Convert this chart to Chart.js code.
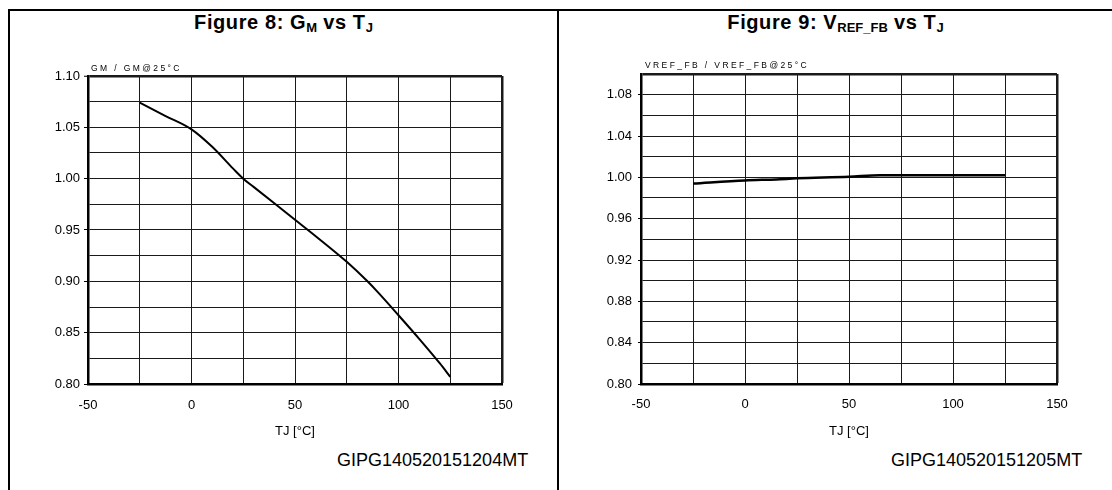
<!DOCTYPE html>
<html>
<head>
<meta charset="utf-8">
<script src="https://cdn.jsdelivr.net/npm/chart.js@4.4.0/dist/chart.umd.min.js"></script>
<style>
  body { margin: 0; background: #fff; width: 1112px; height: 490px; overflow: hidden; position: relative;
         font-family: Arial, "Liberation Sans", sans-serif; color: #000; }
  .line { position: absolute; background: #000; }
  .title { position: absolute; top: 10px; height: 24px; line-height: 24px; font-weight: bold; font-size: 20px;
           letter-spacing: 0.6px; text-align: center; }
  .title sub { font-size: 13px; vertical-align: baseline; position: relative; top: 3px; letter-spacing: 0; }
  .code { position: absolute; top: 450px; font-size: 18px; line-height: 20px; }
  .box { position: absolute; top: 40px; width: 540px; height: 410px; }
</style>
</head>
<body>
<div class="line" style="left:8px;top:9px;width:1104px;height:2px"></div>
<div class="line" style="left:8px;top:9px;width:2px;height:481px"></div>
<div class="line" style="left:557px;top:9px;width:2px;height:481px"></div>

<div class="title" style="left:10px;width:547px">Figure 8: G<sub>M</sub> vs T<sub>J</sub></div>
<div class="title" style="left:559px;width:553px">Figure 9: V<sub>REF_FB</sub> vs T<sub>J</sub></div>

<div class="box" style="left:10px"><canvas id="gmChart" width="540" height="410"></canvas></div>
<div class="box" style="left:565px"><canvas id="vrefChart" width="540" height="410"></canvas></div>

<div class="code" style="left:337px">GIPG140520151204MT</div>
<div class="code" style="left:891px">GIPG140520151205MT</div>

<script>
// Figure 8 - GM / GM@25°C vs TJ
const tjGm = [-25, -12.5, 0, 10, 20, 25, 30, 40, 50, 60, 75, 85, 90, 100, 110, 120, 125];
const gmRatio = [1.074, 1.061, 1.048, 1.031, 1.010, 1.000, 0.992, 0.976, 0.960, 0.944, 0.919, 0.900, 0.8895, 0.867, 0.844, 0.820, 0.807];

// Figure 9 - VREF_FB / VREF_FB@25°C vs TJ
const tjVref = [-25, 0, 15, 25, 50, 65, 100, 125];
const vrefRatio = [0.994, 0.997, 0.998, 0.999, 1.0005, 1.002, 1.002, 1.002];

const xTitle = 'TJ [°C]';
const FONT = 'Arial, "Liberation Sans", sans-serif';

// small spaced caption over the top-left corner of the plot
const captionPlugin = {
    id: 'caption',
    afterDraw(chart, args, opts) {
        const ctx = chart.ctx;
        ctx.save();
        ctx.font = '8.5px ' + FONT;
        ctx.fillStyle = '#000';
        ctx.textBaseline = 'middle';
        let x = chart.chartArea.left + opts.dx;
        const y = chart.chartArea.top + opts.dy;
        for (const ch of opts.text) {
            ctx.fillText(ch, x, y);
            x += ctx.measureText(ch).width + opts.spacing;
        }
        ctx.restore();
    }
};

function makeChart(id, xs, ys, cfg) {
    return new Chart(id, {
        type: 'line',
        data: {
            datasets: [{
                data: xs.map((x, i) => ({ x: x, y: ys[i] })),
                borderColor: '#000',
                borderWidth: cfg.lineWidth,
                pointRadius: 0,
                cubicInterpolationMode: 'monotone',
                fill: false
            }]
        },
        options: {
            responsive: false,
            animation: false,
            devicePixelRatio: 1,
            layout: { padding: { top: cfg.top, right: 48, left: 0, bottom: 0 } },
            plugins: {
                legend: { display: false },
                tooltip: { enabled: false },
                caption: { text: cfg.caption, dx: cfg.capDx, dy: cfg.capDy, spacing: 2.4 }
            },
            scales: {
                x: {
                    type: 'linear',
                    min: -50, max: 150,
                    afterFit(scale) { scale.height = 66; },
                    ticks: {
                        stepSize: 25,
                        padding: cfg.xPad,
                        color: '#000',
                        font: { family: FONT, size: 13 },
                        maxRotation: 0,
                        callback: v => Math.abs(v % 50) < 1e-6 ? String(v) : ''
                    },
                    grid: {
                        drawTicks: false,
                        color: '#1a1a1a',
                        lineWidth: c => (c.tick && c.tick.value === 150) ? 2.5 : 1
                    },
                    border: { color: '#000', width: 2.5 },
                    title: {
                        display: true,
                        text: xTitle,
                        color: '#000',
                        font: { family: FONT, size: 13 },
                        padding: { top: 4, bottom: 11 }
                    }
                },
                y: {
                    min: 0.8, max: 1.1,
                    afterFit(scale) { scale.width = cfg.yWidth; },
                    ticks: {
                        stepSize: cfg.yStep,
                        padding: cfg.yPad,
                        color: '#000',
                        font: { family: FONT, size: 13 },
                        callback: (v, i) => cfg.yLabel(i) ? v.toFixed(2) : ''
                    },
                    grid: {
                        tickLength: cfg.yTick,
                        tickWidth: 1,
                        tickColor: c => cfg.yLabel(c.index) ? '#000' : 'rgba(0,0,0,0)',
                        color: '#1a1a1a',
                        lineWidth: c => (c.tick && c.tick.value > 1.099) ? 2.5 : 1
                    },
                    border: { color: '#000', width: 2.5 }
                }
            }
        },
        plugins: [captionPlugin]
    });
}

makeChart('gmChart', tjGm, gmRatio, {
    lineWidth: 2,
    top: 36,
    yWidth: 78,
    yStep: 0.025,
    yPad: 4,
    yTick: 4,
    xPad: 14,
    yLabel: i => i % 2 === 0,
    caption: 'GM / GM@25°C',
    capDx: 3, capDy: -7
});

makeChart('vrefChart', tjVref, vrefRatio, {
    lineWidth: 2.5,
    top: 34,
    yWidth: 76,
    yStep: 0.02,
    yPad: 6,
    yTick: 3,
    xPad: 13,
    yLabel: i => i % 2 === 0 && i < 15,
    caption: 'VREF_FB / VREF_FB@25°C',
    capDx: 4, capDy: -8
});
</script>
</body>
</html>
